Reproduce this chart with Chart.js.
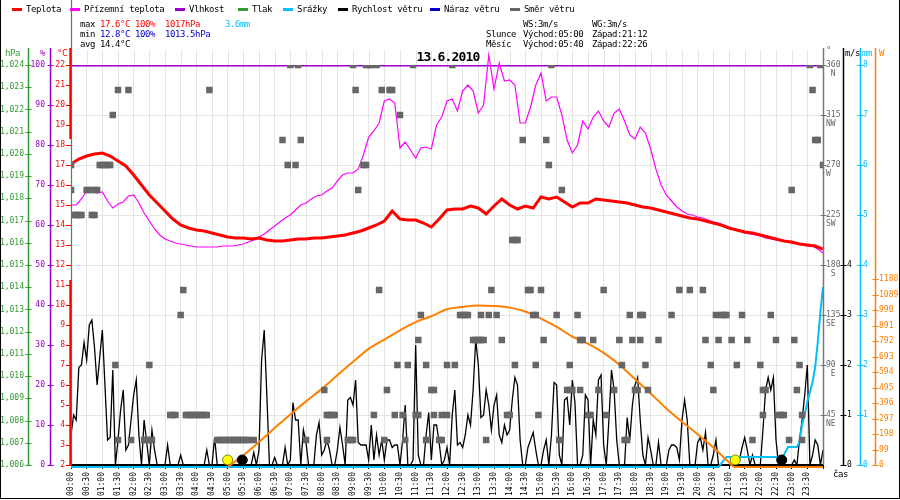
<!DOCTYPE html>
<html lang="cs">
<head>
<meta charset="utf-8">
<title>13.6.2010</title>
<script src="https://cdn.jsdelivr.net/npm/chart.js@4.4.1/dist/chart.umd.min.js"></script>
<style>
html,body{margin:0;padding:0;background:#fff;}
#wrap{position:relative;width:900px;height:500px;overflow:hidden;background:#fff;font-family:'DejaVu Sans Mono',monospace;}
#c{position:absolute;left:0;top:0;}
.tx{position:absolute;font-size:9px;line-height:10px;height:10px;white-space:pre;letter-spacing:-0.4px;color:#000;}
.bar{position:absolute;height:3px;width:10px;}
#title{position:absolute;left:0;width:896px;top:50px;text-align:center;font-weight:bold;font-size:13px;line-height:14px;letter-spacing:-0.8px;color:#000;}
#frame{position:absolute;left:0;top:0;width:900px;height:499px;box-sizing:border-box;border-left:1px solid #000;border-right:1px solid #000;border-bottom:1px solid #000;pointer-events:none;}
</style>
</head>
<body>
<div id="wrap">
<canvas id="c" width="900" height="500"></canvas>
<div id="overlay"></div>
<div id="title">13.6.2010</div>
<div id="frame"></div>
</div>
<script>
// ---------------- DATA ----------------
const timeLabels = ["00:00","00:30","01:00","01:30","02:00","02:30","03:00","03:30","04:00","04:30","05:00","05:30",
  "06:00","06:30","07:00","07:30","08:00","08:30","09:00","09:30","10:00","10:30","11:00","11:30",
  "12:00","12:30","13:00","13:30","14:00","14:30","15:00","15:30","16:00","16:30","17:00","17:30",
  "18:00","18:30","19:00","19:30","20:00","20:30","21:00","21:30","22:00","22:30","23:00","23:30"];

// Teplota (°C), every 15 min from 00:00 to 24:00
const tempStepMin = 15;
const temperature = [
  17.05,17.3,17.45,17.55, 17.6,17.45,17.2,16.95, 16.5,16.0,15.5,15.1, 14.7,14.3,14.0,13.85,
  13.75,13.7,13.6,13.5, 13.4,13.35,13.35,13.3, 13.35,13.25,13.2,13.2, 13.25,13.3,13.3,13.35,
  13.35,13.4,13.45,13.5, 13.6,13.7,13.85,14.0, 14.2,14.7,14.3,14.25, 14.25,14.1,13.9,14.3,
  14.75,14.8,14.8,14.95, 14.85,14.55,14.95,15.3, 15.0,14.8,14.95,14.85, 15.4,15.3,15.4,15.15,
  14.9,15.1,15.1,15.3, 15.25,15.2,15.15,15.1, 15.0,14.9,14.85,14.75, 14.65,14.55,14.45,14.35,
  14.3,14.2,14.1,14.0, 13.85,13.75,13.65,13.6, 13.5,13.4,13.3,13.2, 13.15,13.05,13.0,12.95, 12.8];

// Přízemní teplota (°C), every 10 min
const apparentStepMin = 10;
const apparentTemp = [
  15.0,15.0,15.3,15.7,15.75,15.6,   15.65,15.2,14.85,15.05,15.15,15.45,
  15.5,15.1,14.6,14.2,13.8,13.5,    13.3,13.2,13.1,13.05,13.0,12.95,
  12.9,12.9,12.9,12.9,12.9,12.95,   12.95,12.95,13.0,13.05,13.15,13.25,
  13.4,13.55,13.75,13.95,14.15,14.35, 14.5,14.75,15.0,15.1,15.3,15.45,
  15.5,15.7,15.85,16.2,16.5,16.6,   16.6,16.8,17.5,18.4,18.7,19.1,
  20.2,20.3,20.1,17.85,18.15,17.75, 17.35,17.85,17.9,17.8,19.0,19.4,
  20.2,20.3,19.7,20.7,21.0,20.7,    19.6,20.0,22.5,20.8,22.1,21.2,
  21.25,21.0,19.1,19.1,19.9,21.0,   21.6,20.2,20.4,20.4,19.5,18.25,
  17.6,18.0,19.2,18.8,19.4,19.7,    19.2,18.9,19.6,19.8,19.2,18.5,
  18.3,18.9,18.6,17.8,16.8,16.0,    15.5,15.2,14.9,14.7,14.55,14.5,
  14.4,14.35,14.25,14.15,14.1,14.0, 13.85,13.75,13.7,13.6,13.55,13.5,
  13.45,13.35,13.3,13.25,13.2,13.15, 13.1,13.05,13.0,12.95,12.95,12.8, 12.6];

// Rychlost větru (m/s), every 5 min
const windStepMin = 5;
const windSpeed = [
  0.6,1.0,0.9,1.95,2.0,2.45,2.1,2.8,2.9,2.35,1.6,2.15,
  2.7,1.6,0.5,0.55,1.9,0,0.5,1.1,1.5,0.3,0.4,0.9,
  1.4,1.7,0.6,0,0.9,0.45,0,0.7,0.3,0,0,0,
  0,0.4,0,0,0,0,0.2,0,0,0,0,0,
  0,0,0,0,0.3,0,0,0.55,0,0,0,0,
  0,0,0,0,0,0,0,0,0,0,0.25,0,
  0.3,2.1,2.7,1.4,0,0,0.15,0,0,0,0.35,0,
  0.1,1.25,0.9,0.9,0,0.7,0.45,0,0,0,0.6,0.85,
  0.2,0.3,0.5,0.3,0,0,0.3,0.75,0.4,0,1.3,1.35,
  1.2,1.7,0.45,0.4,0.4,0.4,0.1,0.8,0.1,0.6,0.2,0.5,
  0.1,0.5,0.5,0.35,0.4,0.4,0,0.5,1.2,0,0,0.1,
  2.4,0.2,0,0,0.6,1.05,0.1,0.8,0.8,0.45,0,0.1,
  0.35,0,1.0,1.5,0.4,0.45,0.35,0.6,1.0,0.8,1.5,2.5,
  2.0,0.95,1.0,1.5,1.2,0.7,1.2,1.4,0.6,0.45,0.8,0.6,
  0.7,1.3,1.75,1.6,0.5,0,0,0.35,0.5,0.65,0.3,0,
  0,0.3,0.5,0,0.6,1.65,1.6,0.2,0,1.3,1.35,0.8,
  1.7,1.25,0,0,0.2,1.4,1.3,0,0.9,0.6,1.7,1.8,
  0.4,0,0.9,1.9,1.5,0.5,0,0,0,0.95,0.5,1.2,
  1.6,1.75,0.9,0.2,0,0.55,0.3,0,0,0.45,0,0,
  0,0.3,0.4,0.4,0.35,0.1,0.9,1.3,0.9,0,0,0,
  0.45,0.55,0.3,0.65,0,0,0.2,0.5,0,0,0,0,
  0,0,0,0,0.1,0.35,0.55,0.3,0,0.2,0,0,
  0,0.7,1.5,1.75,1.5,1.75,0.5,0,0.1,0,0,0,
  0,0.1,0,0.5,0.9,1.4,2.0,0,0.2,0.5,0.4,0,
  0.3];

// Vlhkost (%)
const humidityTime = ["00:00","06:00","12:00","18:00","24:00"];
const humidity = [100,100,100,100,100];

// Srážky (mm, cumulative)
const rainTime = ["00:00","20:40","20:55","22:43","22:53","23:10","23:15","23:20","23:25","23:30","23:35","23:40","23:45","23:50","23:55","24:00"];
const rainMm   = [0,0,0.2,0.2,0.4,0.4,0.5,0.85,1.05,1.3,1.5,1.7,2.0,2.5,3.1,3.6];

// Sluneční záření (W)
const solarTime = ["05:00","05:30","06:00","06:30","07:00","07:30","08:00","08:30","09:00","09:30","10:00","10:30",
  "11:00","11:30","12:00","12:30","13:00","13:30","14:00","14:30","15:00","15:30","16:00","16:30",
  "17:00","17:30","18:00","18:30","19:00","19:30","20:00","20:30","21:00","21:10","24:00"];
const solarW = [0,75,160,250,336,420,500,587,673,756,815,875,
  927,965,1010,1025,1033,1030,1020,995,950,897,835,790,
  730,655,563,470,375,290,210,125,30,0,0];

// Směr větru (°)
const dirTime = [
  "00:00","00:00","00:05","00:10","00:15","00:20","00:30","00:35","00:40","00:45","00:45","00:50","00:55",
  "01:00","01:05","01:10","01:15","01:20","01:25","01:30","01:30","01:50","01:55",
  "02:20","02:25","02:30","02:30","02:35",
  "03:10","03:15","03:20","03:30","03:35","03:40","03:45","03:50","03:55",
  "04:00","04:05","04:10","04:15","04:20","04:25","04:40","04:45","04:50","04:55",
  "05:00","05:05","05:10","05:15","05:20","05:25","05:30","05:35","05:40","05:50",
  "06:45","06:55",
  "07:00","07:10","07:15","07:20","07:30",
  "08:05","08:10","08:10","08:15","08:20","08:25","08:50","08:55",
  "09:00","09:00","09:05","09:10","09:20","09:25","09:25","09:30","09:35","09:40","09:45","09:50","09:55",
  "10:00","10:05","10:10","10:15","10:20","10:25","10:30","10:35","10:40","10:45","10:55",
  "11:00","11:05","11:05","11:10","11:20","11:20","11:30","11:35","11:35","11:45","11:50","11:50",
  "12:00","12:00","12:10","12:15","12:25","12:30","12:35","12:40","12:50","12:55",
  "13:00","13:05","13:05","13:10","13:15","13:20","13:25","13:35","13:45","13:55",
  "14:00","14:05","14:10","14:10","14:15","14:25","14:35","14:40","14:45","14:50","14:50","14:55",
  "15:00","15:05","15:10","15:15","15:20","15:30","15:35","15:40","15:50","15:55","15:55",
  "16:00","16:10","16:15","16:15","16:20","16:30","16:35","16:40","16:50",
  "17:00","17:05","17:20","17:30","17:35","17:40","17:45","17:50","17:55",
  "18:00","18:05","18:10","18:10","18:15","18:20","18:25","18:45",
  "19:10","19:25","19:45",
  "20:10","20:15","20:25","20:30","20:35","20:40","20:45","20:50","20:55",
  "21:05","21:15","21:25","21:35","21:45",
  "22:00","22:05","22:05","22:10","22:20","22:30","22:35","22:40","22:45","22:55",
  "23:00","23:05","23:10","23:15","23:20","23:20","23:35","23:40","23:45","23:50","23:55","24:00"];
const dirDeg = [
  270,247.5,225,225,225,225,247.5,247.5,225,225,247.5,247.5,270,
  270,270,270,270,315,90,337.5,22.5,337.5,22.5,
  22.5,22.5,22.5,90,22.5,
  45,45,45,135,157.5,45,45,45,45,
  45,45,45,45,45,337.5,22.5,22.5,22.5,22.5,
  22.5,22.5,22.5,22.5,22.5,22.5,22.5,22.5,22.5,22.5,
  292.5,270,
  360,270,360,292.5,22.5,
  67.5,45,22.5,45,45,45,22.5,22.5,
  22.5,360,337.5,247.5,270,270,360,360,360,45,360,157.5,337.5,
  22.5,67.5,337.5,337.5,45,90,315,45,22.5,90,360,
  45,45,112.5,135,22.5,90,67.5,67.5,45,22.5,22.5,45,
  90,45,360,90,135,135,135,135,112.5,112.5,
  112.5,112.5,135,112.5,22.5,135,157.5,135,112.5,45,
  45,202.5,202.5,90,202.5,292.5,157.5,157.5,135,135,90,45,
  157.5,112.5,292.5,270,360,135,22.5,247.5,67.5,67.5,90,
  67.5,135,112.5,67.5,112.5,45,45,112.5,67.5,
  157.5,45,67.5,112.5,90,22.5,22.5,135,112.5,
  67.5,67.5,112.5,135,135,90,67.5,112.5,
  135,157.5,157.5,
  157.5,112.5,90,67.5,135,112.5,135,135,135,
  112.5,90,135,112.5,22.5,
  90,67.5,45,67.5,135,112.5,45,45,45,22.5,
  247.5,112.5,67.5,90,45,22.5,360,337.5,292.5,292.5,360,270];

// Slunce / Měsíc markers on the time axis
const sunMarkTime = ["05:00","21:12"];
const moonMarkTime = ["05:28","22:41"];
const markerLevel = 0.1;

// header texts
const legendLabels = ['Teplota','Přízemní teplota','Vlhkost','Tlak','Srážky','Rychlost větru','Náraz větru','Směr větru'];
const legendColors = ['#ff0000','#ff00ff','#9900cc','#339933','#00bfff','#000000','#0000cc','#666666'];
const statMax = ['17.6°C','100%','1017hPa','3.6mm'];
const statMin = ['12.8°C','100%','1013.5hPa'];
const statAvg = ['14.4°C'];
const windInfo = ['WS:3m/s','WG:3m/s'];
const sunInfo = ['Slunce','Východ:05:00','Západ:21:12'];
const moonInfo = ['Měsíc','Východ:05:40','Západ:22:26'];
const dirNames = {45:'NE',90:' E',135:'SE',180:' S',225:'SW',270:'W',315:'NW',360:' N'};

// ---------------- HTML TEXT ----------------
const ov = document.getElementById('overlay');
function addText(txt, x, cy, color){
  const d = document.createElement('div');
  d.className = 'tx'; d.textContent = txt;
  d.style.left = x + 'px'; d.style.top = (cy - 5) + 'px';
  if (color) d.style.color = color;
  ov.appendChild(d);
}
const legendX = [12, 70, 175, 238, 283, 338, 430, 510];
legendLabels.forEach((l,i)=>{
  const b = document.createElement('div'); b.className='bar';
  b.style.left = legendX[i]+'px'; b.style.top='8px'; b.style.background = legendColors[i];
  ov.appendChild(b);
  addText(l, legendX[i]+14, 9, '#000');
});
addText('max', 80, 24); addText('min', 80, 34); addText('avg', 80, 44);
const statX = [100, 135, 165, 225];
statMax.forEach((s,i)=>addText(s, statX[i], 24, i===3 ? '#00bfff' : '#ff0000'));
statMin.forEach((s,i)=>addText(s, statX[i], 34, '#0000cc'));
statAvg.forEach((s,i)=>addText(s, statX[i], 44, '#000'));
addText(windInfo[0], 523, 24); addText(windInfo[1], 592, 24);
addText(sunInfo[0], 486, 34); addText(sunInfo[1], 523, 34); addText(sunInfo[2], 592, 34);
addText(moonInfo[0], 486, 44); addText(moonInfo[1], 523, 44); addText(moonInfo[2], 592, 44);
addText('hPa', 5, 53, '#339933');
addText('%', 40, 53, '#9900cc');
addText('°C', 57, 53, '#ff0000');
addText('°', 826, 50, '#666666');
addText('m/s', 845, 53, '#000');
addText('mm', 862, 53, '#00bfff');
addText('W', 879, 53, '#ff8000');
addText('čas', 833, 474, '#000');

// ---------------- CHART ----------------
const toMin = t => { const p = t.split(':').map(Number); return p[0]*60 + p[1]; };
const stepSeries = (vals, step) => vals.map((v,i)=>({x:i*step, y:v}));
const timedSeries = (times, vals) => times.map((t,i)=>({x:toMin(t), y:vals[i]}));

const TICK_PX = 8;
Chart.defaults.font.family = "'DejaVu Sans Mono', monospace";
Chart.defaults.font.size = TICK_PX;
Chart.defaults.color = '#000';

const decor = {
  id: 'decor',
  beforeDatasetsDraw(chart){
    const c = chart.ctx, ca = chart.chartArea, sx = chart.scales.x;
    c.save(); c.strokeStyle = '#e4e4e4'; c.lineWidth = 1;
    sx.ticks.forEach(t=>{
      const x = Math.round(sx.getPixelForValue(t.value)) + 0.5;
      c.beginPath(); c.moveTo(x, 50); c.lineTo(x, ca.top); c.stroke();
    });
    c.restore();
  },
  beforeDatasetDraw(chart, args){
    const ds = chart.data.datasets[args.index];
    if (ds.shiftDown) { chart.ctx.save(); chart.ctx.translate(0, ds.shiftDown); }
  },
  afterDatasetDraw(chart, args){
    const ds = chart.data.datasets[args.index];
    if (ds.shiftDown) chart.ctx.restore();
  },
  afterDraw(chart){
    const c = chart.ctx, ca = chart.chartArea, S = chart.scales;
    c.save();
    const line = (x0,y0,x1,y1,col,w) => { c.strokeStyle=col; c.lineWidth=w; c.beginPath(); c.moveTo(x0,y0); c.lineTo(x1,y1); c.stroke(); };
    const axes = [
      {id:'hpa', left:true, color:'#339933'},
      {id:'hum', left:true, color:'#9900cc'},
      {id:'deg', left:false, color:'#777777'},
      {id:'ms',  left:false, color:'#000000'},
      {id:'mm',  left:false, color:'#00bfff'},
      {id:'w',   left:false, color:'#ff8000'}
    ];
    axes.forEach(a=>{
      const s = S[a.id];
      const x = (a.left ? s.right : s.left) + 0.5;
      line(x, 48, x, ca.bottom, a.color, 1.5);
      s.ticks.forEach(t=>{
        const lab = t.label;
        if (lab === '' || lab === null || lab === undefined) return;
        const y = Math.round(s.getPixelForValue(t.value)) + 0.5;
        line(x-3, y, x+3, y, a.color, 1);
      });
    });
    // temperature axis (red) and the green frame line
    const st = S.temp;
    line(ca.left + 0.5, 0, ca.left + 0.5, ca.bottom, '#339933', 1.2);
    line(ca.left - 0.7, 48, ca.left - 0.7, st.getPixelForValue(18.3), '#ff0000', 2);
    line(ca.left - 0.7, st.getPixelForValue(11.25), ca.left - 0.7, ca.bottom, '#ff0000', 2);
    st.ticks.forEach(t=>{
      const y = Math.round(st.getPixelForValue(t.value)) + 0.5;
      line(ca.left - 5, y, ca.left, y, '#ff0000', 1);
    });
    c.restore();
  }
};

const yBase = (o) => ({
  type:'linear', axis:'y', position:o.position, weight:o.weight, min:o.min, max:o.max,
  grid:{display:false, drawTicks:false}, border:{display:false},
  ticks:Object.assign({autoSkip:false, stepSize:o.step, padding:o.padding, color:o.color, font:{size:TICK_PX}}, o.ticks||{}),
  afterFit(s){ s.width = o.width; }
});

const scales = {
  x: {
    type:'linear', position:'bottom', min:0, max:1440,
    ticks:{stepSize:30, autoSkip:false, minRotation:90, maxRotation:90, padding:3, color:'#000', font:{size:TICK_PX},
      callback:(v,i)=> (i < timeLabels.length ? timeLabels[i] : '')},
    grid:{color:'#e4e4e4', lineWidth:1, drawTicks:true, tickLength:4, tickColor:'#000', tickWidth:1},
    border:{display:true, color:'#000', width:2},
    afterFit(s){ s.height = 35; }
  },
  hpa: yBase({position:'left', weight:3, min:1006, max:1024, step:1, padding:4, color:'#339933', width:28}),
  hum: yBase({position:'left', weight:2, min:0, max:100, step:10, padding:5, color:'#9900cc', width:22}),
  temp: yBase({position:'left', weight:1, min:2, max:22, step:1, padding:6, color:'#ff0000', width:21}),
  deg: yBase({position:'right', weight:1, min:0, max:360, step:45, padding:3, color:'#666666', width:20,
    ticks:{font:{size:TICK_PX, lineHeight:1.08}, labelOffset:4.3,
      callback:(v)=> v === 0 ? '' : [String(v), dirNames[v]]}}),
  ms: yBase({position:'right', weight:2, min:0, max:8, step:1, padding:4, color:'#000000', width:17,
    ticks:{callback:(v)=> v <= 4 ? String(v) : ''}}),
  mm: yBase({position:'right', weight:3, min:0, max:8, step:1, padding:3, color:'#00bfff', width:15}),
  w: yBase({position:'right', weight:4, min:0, max:2560, step:99, padding:4, color:'#ff8000', width:25,
    ticks:{callback:(v)=> (v <= 1188 && v % 99 === 0) ? String(v) : ''}})
};
scales.deg.grid = {display:true, drawOnChartArea:true, drawTicks:false, color:'#e4e4e4', lineWidth:1};

const datasets = [
  {label:'Slunce', type:'scatter', data: sunMarkTime.map(t=>({x:toMin(t), y:markerLevel})), yAxisID:'ms',
    pointRadius:5, pointBackgroundColor:'#ffff00', pointBorderColor:'#808000', pointBorderWidth:1, order:0},
  {label:'Měsíc', type:'scatter', data: moonMarkTime.map(t=>({x:toMin(t), y:markerLevel})), yAxisID:'ms',
    pointRadius:5, pointBackgroundColor:'#000000', pointBorderColor:'#000000', pointBorderWidth:1, order:0},
  {label:'Směr větru', type:'scatter', data: timedSeries(dirTime, dirDeg), yAxisID:'deg',
    pointStyle:'rect', pointRadius:4.6, pointBackgroundColor:'#666666', pointBorderWidth:0, order:1},
  {label:'Teplota', data: stepSeries(temperature, tempStepMin), yAxisID:'temp',
    borderColor:'#ff0000', borderWidth:3, pointRadius:0, order:2},
  {label:'Přízemní teplota', data: stepSeries(apparentTemp, apparentStepMin), yAxisID:'temp',
    borderColor:'#ff00ff', borderWidth:1.2, pointRadius:0, clip:false, order:3},
  {label:'Vlhkost', data: timedSeries(humidityTime, humidity), yAxisID:'hum',
    borderColor:'#9900cc', borderWidth:3, pointRadius:0, order:4},
  {label:'Sluneční záření', data: timedSeries(solarTime, solarW), yAxisID:'w',
    borderColor:'#ff8000', borderWidth:2, pointRadius:0, cubicInterpolationMode:'monotone', clip:false, shiftDown:2, order:5},
  {label:'Srážky', data: timedSeries(rainTime, rainMm), yAxisID:'mm',
    borderColor:'#00bfff', borderWidth:2, pointRadius:0, clip:false, shiftDown:2, order:6},
  {label:'Rychlost větru', data: stepSeries(windSpeed, windStepMin), yAxisID:'ms',
    borderColor:'#000000', borderWidth:1.3, pointRadius:0, order:7}
];

new Chart(document.getElementById('c').getContext('2d'), {
  type:'line',
  data:{datasets},
  options:{
    responsive:false, animation:false, events:[],
    layout:{padding:{top:65, left:0, right:0, bottom:0}},
    plugins:{legend:{display:false}, tooltip:{enabled:false}, title:{display:false}},
    elements:{line:{tension:0, fill:false}, point:{radius:0}},
    scales
  },
  plugins:[decor]
});
</script>
</body>
</html>
